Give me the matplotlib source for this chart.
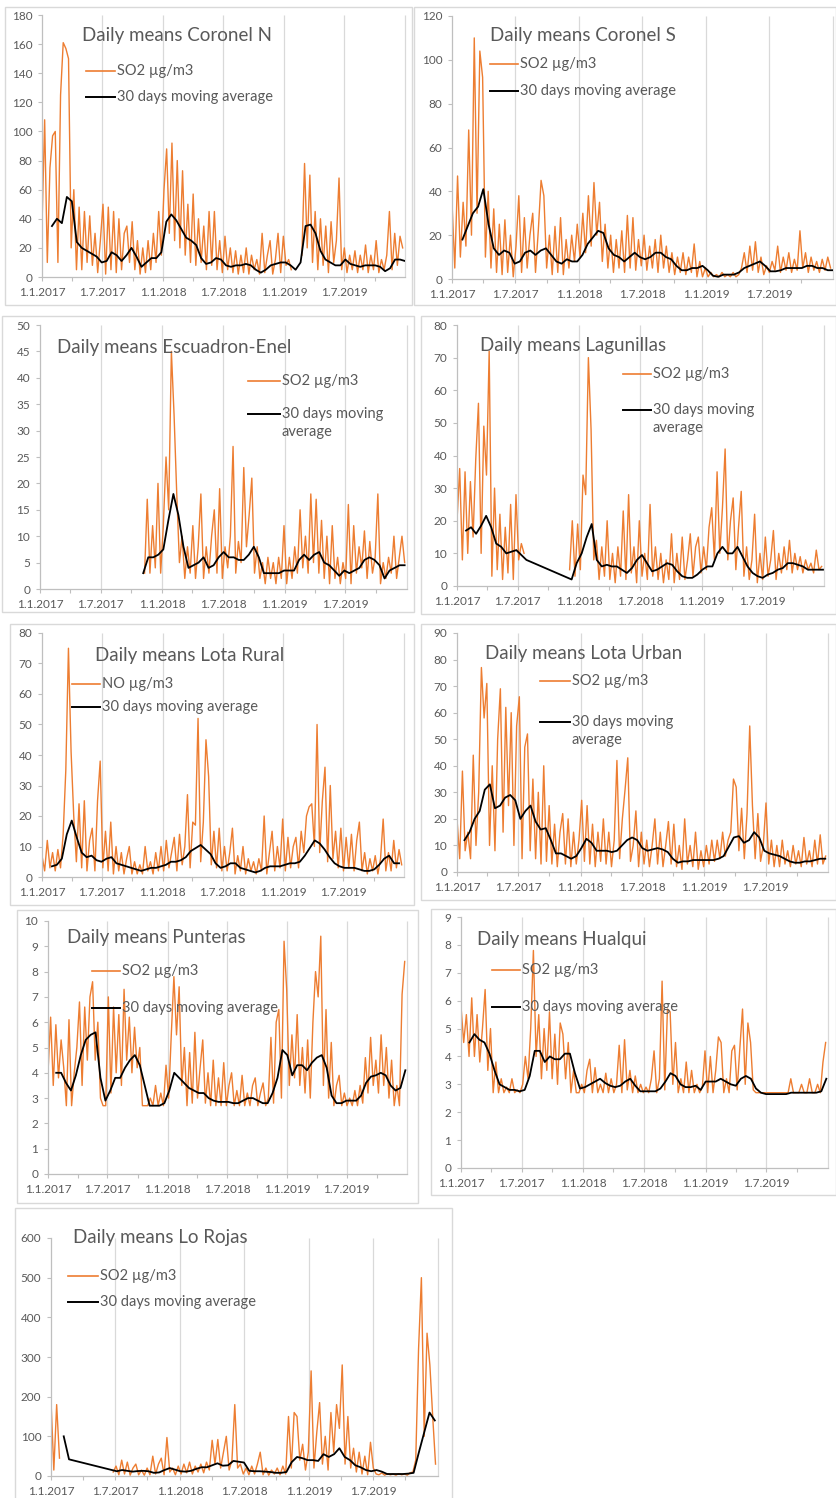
import numpy as np
import matplotlib
matplotlib.use("Agg")
import matplotlib.pyplot as plt
from matplotlib.lines import Line2D
from matplotlib.patches import Rectangle

plt.rcParams['font.family'] = ['Lato', 'DejaVu Sans']
nan = float('nan')

# ---------------- x axis (days since 1.1.2017) ----------------
x_tick_days = [0, 181, 365, 546, 730, 911]
x_tick_labels = ['1.1.2017', '1.7.2017', '1.1.2018', '1.7.2018', '1.1.2019', '1.7.2019']
x_grid_days = [181, 365, 546, 730, 911, 1095]
x_minor_days = [90, 273, 455, 638, 820, 1003]
x_end_day = 1095

DAILY_STEP = 8    # days between the daily samples
MA_STEP = 15      # days between moving-average samples

# ---------------- Coronel N ----------------
coronel_n_so2_start = 0
coronel_n_so2 = [35,108,10,75,97,100,10,125,161,157,
                 150,20,60,5,48,5,45,10,42,8,
                 30,3,25,50,2,48,5,45,3,40,
                 5,30,35,10,38,5,25,2,20,3,
                 25,5,30,10,45,15,60,88,30,92,
                 25,80,20,73,15,50,10,57,8,40,
                 10,35,5,45,8,45,5,25,3,28,
                 5,20,3,18,2,15,3,20,2,15,
                 5,12,2,30,3,15,25,2,12,30,
                 3,28,8,12,5,nan,nan,nan,15,78,
                 20,70,10,45,5,40,8,35,3,38,
                 10,25,68,5,20,3,15,5,18,3,
                 15,5,22,3,15,5,25,3,12,5,
                 15,45,5,30,8,28,20]
coronel_n_ma_start = 30
coronel_n_ma = [35,40,37,55,52,24,20,18,16,14,
                10,11,17,15,11,15,20,14,7,10,
                13,13,17,38,43,39,33,27,25,22,
                13,9,10,13,12,8,7,8,8,9,
                8,5,3,5,8,9,10,10,8,5,
                10,35,36,30,18,12,10,8,8,12,
                9,8,7,8,8,8,7,4,6,12,
                12,11]

# ---------------- Coronel S ----------------
coronel_s_so2_start = 0
coronel_s_so2 = [35,5,47,10,35,15,68,20,110,30,
                 104,92,10,40,5,32,3,25,2,27,
                 3,20,1,15,38,3,28,5,20,30,
                 3,22,45,38,5,20,2,24,3,28,
                 2,18,5,20,8,25,10,30,12,38,
                 15,44,20,35,8,25,5,20,3,18,
                 5,22,3,29,5,28,4,18,6,20,
                 4,15,5,18,3,20,5,15,3,12,
                 2,10,3,12,2,10,3,16,1,8,
                 1,5,1,3,1,2,1,3,1,2,
                 1,3,1,2,5,12,3,15,4,17,
                 3,10,2,6,3,8,4,15,3,10,
                 4,12,3,9,4,22,5,12,3,10,
                 4,8,3,9,4,10,5]
coronel_s_ma_start = 30
coronel_s_ma = [18,24,30,33,41,25,14,11,13,12,
                7,8,12,13,11,13,14,11,8,7,
                9,8,8,11,16,19,22,21,14,11,
                10,8,10,12,10,9,10,12,12,10,
                9,6,4,4,5,5,6,4,1.5,1,
                2,2,2,3,5,6,7,8,6,3.5,
                3.5,4,5,5,5,5,6,6,5,5,
                4,4]

# ---------------- Escuadron-Enel ----------------
escuadron_so2_start = 312
escuadron_so2 = [3,17,3,12,4,20,3,12,25,15,
                 45,33,18,5,10,2,8,3,12,2,
                 8,18,2,8,3,10,15,3,19,2,
                 8,4,10,27,3,9,5,23,8,14,
                 21,3,8,2,5,1,6,2,5,1,
                 6,2,12,1,6,2,8,3,15,4,
                 10,3,18,5,17,3,13,2,10,1,
                 12,2,6,1,5,2,16,1,12,3,
                 8,4,11,2,9,3,6,18,1,5,
                 2,6,3,10,2,6,10,5]
escuadron_ma_start = 308
escuadron_ma = [3,6,6,6.5,7.5,13,18,14,8,4,
                4.5,5,6,4,4.5,6,7,6,6,5.5,
                5.5,6.5,8,6,3,3,3,3,3.5,3.5,
                3.5,5.5,6.5,5.5,6.5,7,5,4.5,3.5,2.5,
                3.5,3,3.5,4,5.5,6,5.5,4.5,2,3.5,
                4,4.5,4.5]

# ---------------- Lagunillas ----------------
lagunillas_so2_start = 0
lagunillas_so2 = [20,36,8,35,10,32,15,39,56,10,
                  49,34,72,3,30,5,22,2,18,4,
                  25,2,28,8,13,10,
                  nan,nan,nan,nan,nan,nan,nan,nan,
                  nan,nan,nan,nan,nan,nan,nan,nan,
                  5,20,3,19,5,34,28,70,48,8,
                  14,2,12,3,20,2,10,1,12,3,
                  23,2,28,4,12,1,20,3,10,2,
                  25,3,12,2,10,1,8,2,16,1,
                  10,2,15,2,8,16,3,12,15,4,
                  12,5,18,24,8,35,10,24,42,8,
                  20,27,5,18,29,3,12,2,8,22,
                  1,10,2,15,3,8,17,2,10,4,
                  12,5,14,4,10,5,9,4,8,5,
                  7,4,11,5,6]
lagunillas_ma_start = 27
lagunillas_ma = [17,18,16,18.5,21.5,18,13,12,10,10.5,
                 11,9.5,8,nan,nan,nan,nan,nan,nan,nan,
                 nan,2,7,10,15,19,8,6,6.5,6,
                 6,5,4,5.5,8,9.5,7,4.5,5,6,
                 7,6.5,4.5,3,2.5,2.5,3.5,5,6,6,
                 10,12,10,10,12,9,6,4,3,2.5,
                 3.5,4,5,5.5,7,7,6.5,6,5,5,
                 5,5]

# ---------------- Lota Rural ----------------
lota_rural_no_start = 0
lota_rural_no = [7,2,12,3,8,2,9,3,14,35,
                 75,41,20,5,24,3,25,2,12,16,
                 2,25,38,3,15,2,18,1,10,2,
                 8,1,6,10,1,5,1,4,1,10,
                 2,5,1,8,2,10,2,12,3,8,
                 13,2,14,4,10,27,3,18,17,52,
                 5,18,45,33,4,15,3,16,2,10,
                 2,8,16,1,7,2,10,1,6,2,
                 5,1,6,2,20,1,8,15,2,10,
                 3,19,2,13,3,10,13,3,15,8,
                 20,23,24,10,50,8,25,36,5,30,
                 6,15,3,16,2,13,3,14,2,12,
                 18,2,8,1,6,2,7,1,6,19,
                 2,8,2,12,3,9,4]
lota_rural_ma_start = 30
lota_rural_ma = [3.5,4,6,14,18.5,13,8,6.5,7,5.5,
                 5,6,6.5,4.5,4,3.5,3,2.5,2,2.5,
                 3,3,3.5,4,5,5,5.5,6.5,8.5,9.5,
                 10.5,9,7.5,4.5,3,3.5,4.5,4.5,3,2.5,
                 2,1.5,2,3,3.5,3.5,3.5,4,4.5,4.5,
                 5,7,9.5,12,11,9,6.5,4.5,3.5,3,
                 3,3,2.5,2,2,2.5,4,6,7,4.5,
                 4.5]

# ---------------- Lota Urban ----------------
lota_urban_so2_start = 0
lota_urban_so2 = [20,5,38,8,15,5,44,10,30,77,
                  58,71,10,40,8,50,69,15,62,25,
                  60,10,55,66,5,47,52,8,35,5,
                  30,3,40,4,25,3,18,2,15,22,
                  3,20,2,15,3,12,27,4,25,3,
                  18,2,15,4,20,3,15,2,12,42,
                  5,20,31,43,4,10,23,2,15,3,
                  12,2,10,20,3,15,2,10,19,3,
                  18,2,10,1,20,3,10,2,15,1,
                  8,2,10,3,12,4,12,5,15,6,
                  12,15,35,32,8,24,5,22,55,25,
                  5,22,4,10,26,3,12,2,10,2,
                  12,3,8,2,10,3,8,2,13,3,
                  8,2,12,3,14,3,6]
lota_urban_ma_start = 22
lota_urban_ma = [12,15,20,23,31,33,24,25,28,29,
                 27,20,23,25,19,16,16.5,12,7,7,
                 6,5,6,9,12.5,11,8,8,8,7.5,
                 8,10,12,13,12,9,8,8.5,9,8.5,
                 7.5,5,3.5,4,4,4.5,4.5,4.5,4.5,4.5,
                 5,6,9.5,13,13.5,11,12,15,13,8,
                 7,6.5,6,5,4,3.5,3.5,4,4,4.5,
                 5,5]

# ---------------- Punteras ----------------
punteras_so2_start = 0
punteras_so2 = [4.0,6.2,3.5,5.9,3.8,5.3,4.2,2.7,6.1,2.7,
                4.0,5.0,6.8,3.5,6.6,4.5,7.0,7.6,4.5,6.0,
                3.0,2.7,2.7,7.0,3.2,6.6,4.0,6.3,3.5,7.3,
                4.5,6.2,4.0,5.8,4.2,5.0,2.7,2.7,2.7,3.0,
                2.7,3.5,2.7,3.2,2.7,4.3,3.0,5.5,7.8,5.5,
                7.4,3.5,5.0,2.7,4.8,2.8,5.6,3.0,4.2,5.3,
                2.8,4.0,2.7,4.5,2.7,3.8,2.7,4.4,2.7,3.5,
                4.0,2.7,3.3,2.7,3.9,2.7,3.2,2.7,3.5,3.8,
                2.7,3.2,3.6,2.7,3.0,5.4,2.8,6.0,6.5,3.0,
                9.2,7.3,3.5,5.5,3.8,6.3,3.5,5.0,3.2,5.3,
                3.0,6.0,8.0,7.0,9.4,3.5,6.5,3.0,5.2,2.7,
                3.5,3.9,2.7,3.2,2.7,3.0,2.7,3.3,2.7,3.5,
                2.8,4.6,3.2,5.4,3.5,4.5,3.2,5.5,3.5,5.0,
                3.0,4.5,2.7,3.5,2.7,7.1,8.4]
punteras_ma_start = 25
punteras_ma = [4.0,4.0,3.6,3.3,3.9,4.7,5.3,5.5,5.6,3.8,
               2.9,3.3,3.8,3.8,4.2,4.5,4.7,4.3,3.5,2.7,
               2.7,2.7,2.8,3.3,4.0,3.8,3.6,3.4,3.3,3.2,
               3.2,3.0,2.9,2.85,2.85,2.85,2.8,2.8,2.9,3.0,
               3.0,2.9,2.8,2.8,3.2,3.8,4.9,4.7,3.9,4.3,
               4.3,4.1,4.4,4.6,4.7,4.2,3.1,2.8,2.8,2.9,
               2.9,2.9,3.1,3.6,3.85,3.9,4.0,3.9,3.5,3.3,
               3.4,4.1]

# ---------------- Hualqui ----------------
hualqui_so2_start = 0
hualqui_so2 = [5.8,4.5,5.5,4.0,6.1,4.0,5.5,3.8,5.0,6.4,
               3.5,5.0,2.7,3.8,2.7,3.2,2.7,2.9,2.7,3.2,
               2.7,2.8,2.7,3.0,4.0,3.2,5.0,7.8,4.0,5.5,
               3.2,5.0,3.5,5.6,3.2,4.8,3.0,5.2,4.8,3.2,
               4.5,2.7,3.5,2.7,2.7,3.0,2.7,3.5,3.9,2.7,
               3.6,2.7,3.0,2.7,3.4,2.7,3.2,2.7,3.0,4.4,
               2.7,4.6,2.8,3.5,2.7,3.3,2.7,3.0,2.7,2.9,
               2.7,3.2,4.2,2.7,3.2,6.7,2.8,5.7,5.6,3.0,
               4.5,2.7,3.2,2.7,3.8,2.7,3.5,2.7,3.0,2.7,
               2.9,4.2,2.7,4.0,2.7,3.5,4.7,4.5,2.7,3.2,
               2.7,4.2,4.4,2.8,4.3,5.7,3.0,5.2,4.5,2.8,
               2.7,2.7,2.7,2.7,2.7,2.7,2.7,2.7,2.7,2.7,
               2.7,2.7,2.7,3.2,2.7,2.7,2.7,3.0,2.7,2.7,
               3.2,2.7,2.7,3.0,2.7,3.8,4.5]
hualqui_ma_start = 25
hualqui_ma = [4.5,4.8,4.6,4.5,4.1,3.5,3.0,2.9,2.8,2.8,
              2.75,2.8,3.3,4.2,4.2,3.8,4.0,3.9,3.9,4.1,
              4.1,3.4,2.85,2.9,3.0,3.1,3.2,3.05,2.95,2.9,
              2.95,3.1,3.2,2.95,2.75,2.75,2.75,2.75,2.85,3.1,
              3.4,3.3,3.0,2.9,2.9,2.95,2.8,3.1,3.1,3.1,
              3.2,3.1,3.0,2.95,3.2,3.3,3.2,2.85,2.7,2.65,
              2.65,2.65,2.65,2.65,2.7,2.7,2.7,2.7,2.7,2.7,
              2.75,3.2]

# ---------------- Lo Rojas ----------------
lo_rojas_so2_start = 0
lo_rojas_so2 = [190,15,180,45,
                nan,nan,nan,nan,nan,nan,nan,nan,nan,
                nan,nan,nan,nan,nan,nan,nan,nan,nan,
                10,25,3,40,5,35,2,20,30,3,
                15,2,20,3,50,5,30,45,3,97,
                10,20,3,25,5,30,8,35,5,25,
                10,30,8,35,15,90,30,92,20,60,
                100,15,40,180,20,30,5,20,3,25,
                5,30,60,3,20,2,15,5,20,3,
                25,5,150,20,160,150,40,80,15,60,
                265,20,110,185,30,100,15,160,60,180,
                120,280,30,150,20,70,10,60,5,50,
                3,85,20,5,3,8,2,6,3,5,
                2,6,3,5,2,8,10,40,320,500,
                100,360,280,150,30]
lo_rojas_ma_start = 36
lo_rojas_ma = [100,42,nan,nan,nan,nan,nan,nan,nan,nan,
               12,15,13,11,12.5,13,12,8,9,15,
               20,16,12,11,13,18,22,22,27,32,
               26,27,38,36,34,13,12,12,11,10,
               8,8,10,35,48,45,40,40,38,55,
               48,55,70,48,40,27,22,15,12,15,
               11,5,5,5,5,6,8,60,110,160,
               140]

stations = [
    ("Daily means Coronel N", "SO2 µg/m3", coronel_n_so2, coronel_n_so2_start, coronel_n_ma, coronel_n_ma_start, 180, 20),
    ("Daily means Coronel S", "SO2 µg/m3", coronel_s_so2, coronel_s_so2_start, coronel_s_ma, coronel_s_ma_start, 120, 20),
    ("Daily means Escuadron-Enel", "SO2 µg/m3", escuadron_so2, escuadron_so2_start, escuadron_ma, escuadron_ma_start, 50, 5),
    ("Daily means Lagunillas", "SO2 µg/m3", lagunillas_so2, lagunillas_so2_start, lagunillas_ma, lagunillas_ma_start, 80, 10),
    ("Daily means Lota Rural", "NO µg/m3", lota_rural_no, lota_rural_no_start, lota_rural_ma, lota_rural_ma_start, 80, 10),
    ("Daily means Lota Urban", "SO2 µg/m3", lota_urban_so2, lota_urban_so2_start, lota_urban_ma, lota_urban_ma_start, 90, 10),
    ("Daily means Punteras", "SO2 µg/m3", punteras_so2, punteras_so2_start, punteras_ma, punteras_ma_start, 10, 1),
    ("Daily means Hualqui", "SO2 µg/m3", hualqui_so2, hualqui_so2_start, hualqui_ma, hualqui_ma_start, 9, 1),
    ("Daily means Lo Rojas", "SO2 µg/m3", lo_rojas_so2, lo_rojas_so2_start, lo_rojas_ma, lo_rojas_ma_start, 600, 100),
]
ma_label = "30 days moving average"

# ---------------- layout (pixel boxes on the 837 x 1498 canvas) ----------------
layouts = [
    dict(frame=(5, 7, 412, 305), ax=(42, 15, 405, 277), title=(82, 35), leg=(86, 115, 71, 97), two=False),
    dict(frame=(414, 7, 836, 305), ax=(452, 16, 833, 279), title=(490, 36), leg=(490, 518, 64, 91), two=False),
    dict(frame=(2, 316, 414, 612), ax=(40, 325, 407, 589), title=(57, 347), leg=(248, 280, 381, 414), two=True),
    dict(frame=(421, 316, 836, 614), ax=(457, 325, 824, 586), title=(480, 345), leg=(623, 651, 374, 410), two=True),
    dict(frame=(10, 624, 414, 905), ax=(42, 633, 404, 877), title=(95, 655), leg=(72, 100, 684, 707), two=False),
    dict(frame=(421, 624, 836, 900), ax=(457, 633, 828, 872), title=(485, 653), leg=(540, 570, 681, 722), two=True),
    dict(frame=(17, 910, 418, 1203), ax=(48, 921, 407, 1174), title=(67, 938), leg=(92, 120, 971, 1008), two=False),
    dict(frame=(431, 909, 836, 1195), ax=(461, 917, 828, 1168), title=(477, 939), leg=(492, 520, 970, 1007), two=False),
    dict(frame=(15, 1208, 452, 1505), ax=(51, 1238, 438, 1476), title=(73, 1237), leg=(68, 98, 1276, 1302), two=False),
]

W, H = 837, 1498
ORANGE = '#ED7D31'
TEXT = '#595959'
AXC = '#BFBFBF'
GRID = '#D9D9D9'


def fx(x):
    return x / W


def fy(y):
    return 1 - y / H


fig = plt.figure(figsize=(W / 100, H / 100), dpi=100)
fig.patch.set_facecolor('white')

for st, lay in zip(stations, layouts):
    title, label, so2, so2_start, ma, ma_start, ymax, ystep = st
    l, t, r, b = lay['frame']
    fig.add_artist(Rectangle((fx(l), fy(b)), (r - l) / W, (b - t) / H, transform=fig.transFigure,
                             fill=False, ec=GRID, lw=1.0))
    al, at, ar, ab = lay['ax']
    ax = fig.add_axes([fx(al), fy(ab), (ar - al) / W, (ab - at) / H])
    ax.set_facecolor('none')
    ax.set_xlim(0, x_end_day)
    ax.set_ylim(0, ymax)
    for s in ('top', 'right'):
        ax.spines[s].set_visible(False)
    for s in ('left', 'bottom'):
        ax.spines[s].set_color(AXC)
        ax.spines[s].set_linewidth(0.9)
    ax.vlines(x_grid_days, 0, ymax, colors=GRID, lw=0.9, zorder=0, clip_on=False)
    yt = np.arange(0, ymax + ystep / 2, ystep)
    ax.set_yticks(yt)
    ax.set_yticklabels([f"{v:g}" for v in yt])
    ax.set_xticks(x_tick_days)
    ax.set_xticklabels(x_tick_labels)
    ax.set_xticks(x_minor_days, minor=True)
    ax.tick_params(axis='both', which='major', direction='out', length=3, width=0.8,
                   color=AXC, labelcolor=TEXT, labelsize=8.5)
    ax.tick_params(axis='y', pad=4)
    ax.tick_params(axis='x', pad=4)
    ax.tick_params(axis='x', which='minor', direction='out', length=3, width=0.8, color=AXC)

    d = so2_start + DAILY_STEP * np.arange(len(so2))
    ax.plot(d, np.array(so2, dtype=float), color=ORANGE, lw=1.0, zorder=2)
    m = np.array(ma, dtype=float)
    dm = ma_start + MA_STEP * np.arange(len(m))
    ok = ~np.isnan(m)
    ax.plot(dm[ok], m[ok], color='black', lw=1.3, zorder=3)

    tx, ty = lay['title']
    fig.text(fx(tx), fy(ty), title, fontsize=13.5, color=TEXT, ha='left', va='center')
    x0, x1, y1, y2 = lay['leg']
    fig.add_artist(Line2D([fx(x0), fx(x1)], [fy(y1), fy(y1)], color=ORANGE, lw=1.2))
    fig.add_artist(Line2D([fx(x0), fx(x1)], [fy(y2), fy(y2)], color='black', lw=1.4))
    fig.text(fx(x1 + 2), fy(y1), label, fontsize=10.5, color=TEXT, ha='left', va='center')
    if lay['two']:
        fig.text(fx(x1 + 2), fy(y2), "30 days moving", fontsize=10.5, color=TEXT, ha='left', va='center')
        fig.text(fx(x1 + 2), fy(y2 + 18), "average", fontsize=10.5, color=TEXT, ha='left', va='center')
    else:
        fig.text(fx(x1 + 2), fy(y2), ma_label, fontsize=10.5, color=TEXT, ha='left', va='center')

fig.savefig('out.png', dpi=100)
